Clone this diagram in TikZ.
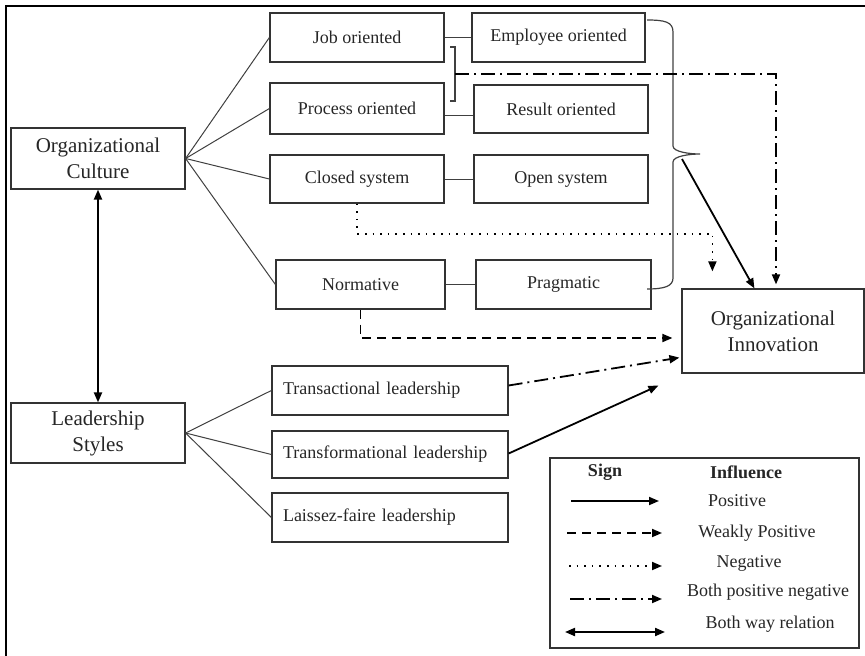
\documentclass[tikz,border=0pt]{standalone}
\usepackage{fontspec}
\setmainfont{Liberation Serif}
\usetikzlibrary{arrows.meta,calc}
\begin{document}
\begin{tikzpicture}[x=1pt,y=-1pt,
 box/.style={draw=black!80, line width=1.2pt, inner sep=0pt, font=\fontsize{18}{21}\selectfont, text=black!85},
 bigbox/.style={box, font=\fontsize{21}{26}\selectfont, align=center},
 leadbox/.style={box, inner xsep=11pt, text width=214pt, align=left, minimum height=49pt},
 link/.style={draw=black!75, line width=1pt},
 arrtip/.style={-{Triangle[length=10pt,width=8pt]}},
 arrpos/.style={arrtip, line width=1.8pt},
 arrweak/.style={arrtip, line width=1.8pt, dash pattern=on 9pt off 6pt},
 arrneg/.style={arrtip, line width=1.8pt, dash pattern=on 1.6pt off 6pt},
 arrboth/.style={arrtip, line width=1.8pt, dash pattern=on 14pt off 5pt on 2pt off 5pt},
 arrtwo/.style={{Triangle[length=10pt,width=8pt]}-{Triangle[length=10pt,width=8pt]}, line width=2pt},
 legtext/.style={font=\fontsize{18}{21}\selectfont, text=black!85},
]
\useasboundingbox (0,0) rectangle (865,656);
\draw[line width=2.2pt] (6,656) -- (6,6) -- (865,6);

% left main boxes
\node[bigbox, minimum width=174pt, minimum height=61pt] (oc) at (98,158.5) {Organizational\\Culture};
\node[bigbox, minimum width=174pt, minimum height=60pt] (ls) at (98,433) {Leadership\\Styles};

% culture dimensions
\node[box, minimum width=174pt, minimum height=49pt] (job) at (357,37.5) {Job oriented};
\node[box, minimum width=173pt, minimum height=49pt] (emp) at (558.5,37.5) {Employee oriented};
\node[box, minimum width=174pt, minimum height=51pt] (proc) at (357,108.5) {Process oriented};
\node[box, minimum width=174pt, minimum height=48pt] (res) at (561,109) {Result oriented};
\node[box, minimum width=174pt, minimum height=48pt] (clos) at (357,179) {Closed system};
\node[box, minimum width=174pt, minimum height=48pt] (open) at (561,179) {Open system};
\node[box, minimum width=169pt, minimum height=49pt] (norm) at (360.5,284.5) {Normative};
\node[box, minimum width=175pt, minimum height=49pt] (prag) at (563.5,284.5) {Pragmatic};

% innovation
\node[bigbox, minimum width=182pt, minimum height=84pt] (innov) at (773,331) {Organizational\\Innovation};

% leadership styles
\node[leadbox] (tra) at (390,390.5) {Transactional leadership};
\node[leadbox, minimum height=47pt] (trf) at (390,454.5) {Transformational leadership};
\node[leadbox] (lai) at (390,517.5) {Laissez-faire leadership};

% links
\draw[link] (oc.east) -- (job.west);
\draw[link] (oc.east) -- (proc.west);
\draw[link] (oc.east) -- (clos.west);
\draw[link] (oc.east) -- (norm.west);
\draw[link] (ls.east) -- (tra.west);
\draw[link] (ls.east) -- (trf.west);
\draw[link] (ls.east) -- (lai.west);
\draw[link] (job.east) -- (emp.west);
\draw[link] ($(proc.east)+(0,7)$) -- ($(res.west)+(0,6.5)$);
\draw[link] (clos.east) -- (open.west);
\draw[link] (norm.east) -- (prag.west);

% small bracket
\draw[link, line width=1.2pt] (450,47) -- (455,47) -- (455,101) -- (450,101);
\coordinate (brk) at (455,74);

% big brace
\draw[link, line width=1.2pt] (647,20) .. controls (665,20) and (673,22) .. (673,32) -- (673,146)
  .. controls (673,152) and (690,154) .. (700,154)
  .. controls (690,154) and (673,156) .. (673,162) -- (673,278)
  .. controls (673,286) and (665,289) .. (647,289);
\coordinate (bt) at (682,159);

% influences
\draw[arrpos] (bt) -- ($(innov.north west)+(73,0)$);
\draw[arrboth] (brk) -| ($(innov.north)+(3,-4)$);
\draw[arrneg] (clos.south) -- ++(0,30) -| ($(innov.north west)+(31,-17)$);
\draw[arrweak] (norm.south) |- ($(innov.west)+(-9,7)$);
\draw[arrboth] ($(tra.east)+(0,-5)$) -- ($(innov.south west)+(-2,-16)$);
\draw[arrpos] ($(trf.east)+(0,-1)$) -- ($(innov.south west)+(-23,12)$);
\draw[arrtwo] (ls.north) -- (oc.south);

% legend
\node[draw=black!80, line width=1.2pt, minimum width=309pt, minimum height=190pt, inner sep=0pt] (leg) at (704.5,553) {};
\node[legtext, font=\fontsize{18}{21}\selectfont\bfseries] (sign) at (605,472) {Sign};
\node[legtext, font=\fontsize{18}{21}\selectfont\bfseries] (infl) at (746,472) {Influence};
\coordinate (l1a) at (571,501); \coordinate (l1b) at (659,501);
\coordinate (l2a) at (567,533); \coordinate (l2b) at (662,533);
\coordinate (l3a) at (569,566); \coordinate (l3b) at (662,566);
\coordinate (l4a) at (570,599); \coordinate (l4b) at (662,599);
\coordinate (l5a) at (565,632); \coordinate (l5b) at (665,632);
\draw[arrpos] (l1a) -- (l1b);
\draw[arrweak] (l2a) -- (l2b);
\draw[arrneg] (l3a) -- (l3b);
\draw[arrboth] (l4a) -- (l4b);
\draw[arrtwo] (l5a) -- (l5b);
\node[legtext] (t1) at (737,501) {Positive};
\node[legtext] (t2) at (757,533) {Weakly Positive};
\node[legtext] (t3) at (749,563) {Negative};
\node[legtext] (t4) at (768,592) {Both positive negative};
\node[legtext] (t5) at (770,624) {Both way relation};
\end{tikzpicture}
\end{document}
